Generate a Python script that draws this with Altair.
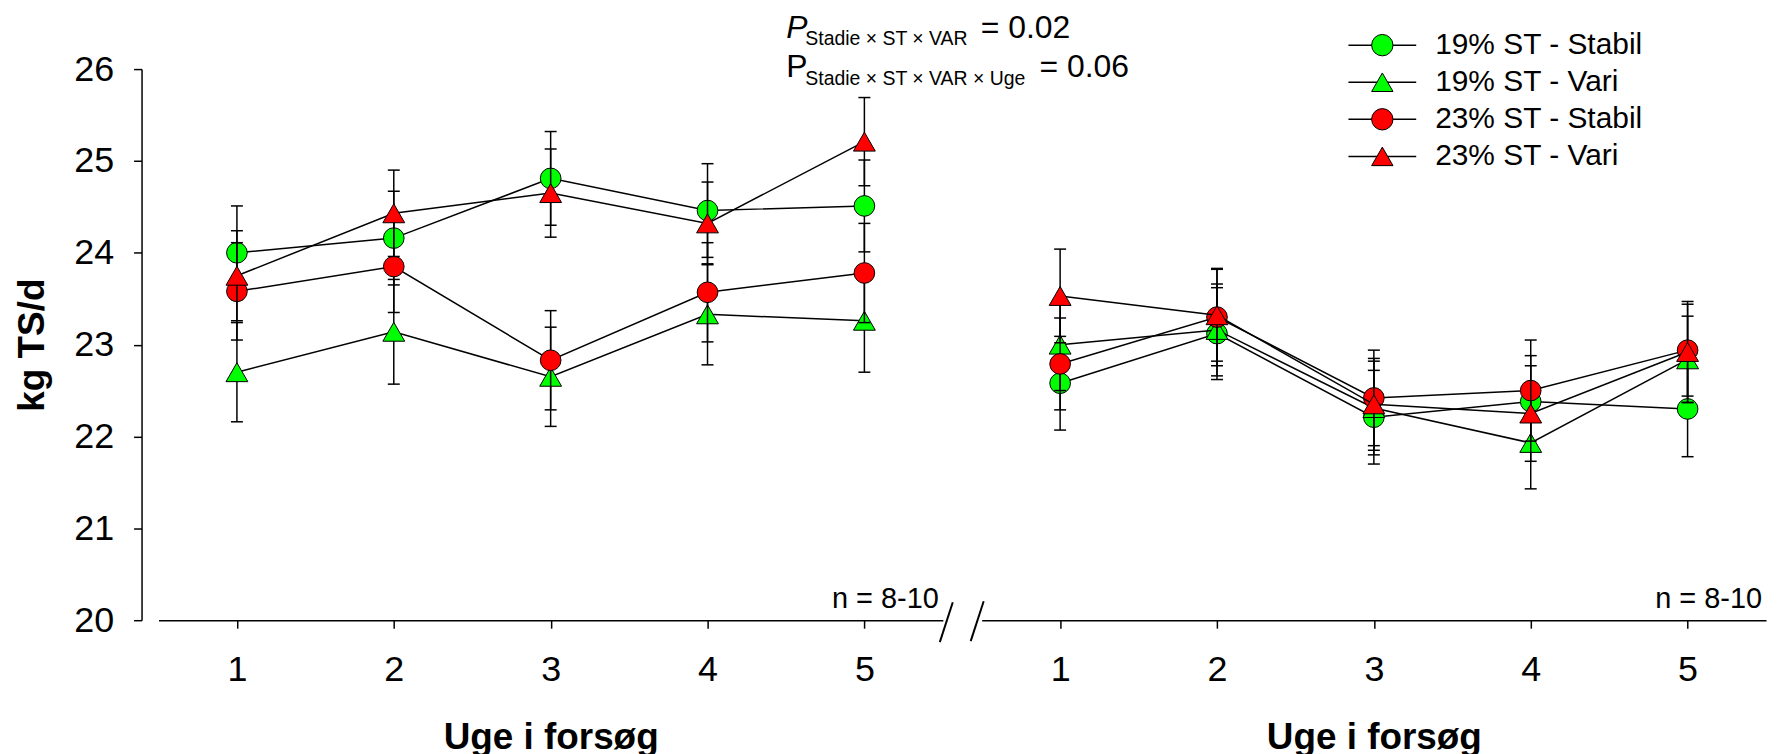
import altair as alt
import pandas as pd

FONT = "Liberation Sans"

# ---------------- data ----------------
weeks = [1, 2, 3, 4, 5]
y_ticks = [20, 21, 22, 23, 24, 25, 26]

series_names = ["19% ST - Stabil", "19% ST - Vari", "23% ST - Stabil", "23% ST - Vari"]
series_fill = ["#00FF00", "#00FF00", "#FF0000", "#FF0000"]
series_shape = ["circle", "triangle-up", "circle", "triangle-up"]

# left panel
left_19_stabil = [24.00, 24.16, 24.81, 24.46, 24.51]
left_19_stabil_se = [0.51, 0.51, 0.51, 0.51, 0.50]
left_19_vari = [22.70, 23.14, 22.65, 23.33, 23.26]
left_19_vari_se = [0.54, 0.57, 0.54, 0.55, 0.56]
left_23_stabil = [23.58, 23.85, 22.83, 23.57, 23.78]
left_23_stabil_se = [0.53, 0.50, 0.54, 0.54, 0.54]
left_23_vari = [23.75, 24.43, 24.65, 24.32, 25.21]
left_23_vari_se = [0.49, 0.47, 0.48, 0.45, 0.48]

# right panel
right_19_stabil = [22.58, 23.12, 22.21, 22.38, 22.30]
right_19_stabil_se = [0.51, 0.50, 0.51, 0.50, 0.52]
right_19_vari = [23.00, 23.16, 22.31, 21.93, 22.84]
right_19_vari_se = [0.50, 0.50, 0.51, 0.50, 0.47]
right_23_stabil = [22.79, 23.30, 22.42, 22.50, 22.94]
right_23_stabil_se = [0.50, 0.53, 0.52, 0.55, 0.50]
right_23_vari = [23.53, 23.32, 22.35, 22.25, 22.92]
right_23_vari_se = [0.51, 0.50, 0.50, 0.52, 0.55]

x_title = "Uge i forsøg"
y_title = "kg TS/d"
n_label = "n = 8-10"
ann_p = "P"
ann_sub1 = "Stadie × ST × VAR"
ann_val1 = "= 0.02"
ann_sub2 = "Stadie × ST × VAR × Uge"
ann_val2 = "= 0.06"

# ---------------- layout ----------------
W, H = 787, 553
TICK_FONT = 36
TITLE_FONT = 37


def series_layers(means, ses, show_y):
    xscale = alt.Scale(domain=[0.5, 5.5], nice=False, zero=False)
    yscale = alt.Scale(domain=[20, 26], nice=False, zero=False)
    xaxis = alt.Axis(values=weeks, format="d", grid=False, tickSize=8, tickWidth=1.5,
                     tickColor="black", domainColor="black", domainWidth=1.5,
                     labelFontSize=TICK_FONT, labelFont=FONT, labelColor="black",
                     labelPadding=25, labelFlush=False,
                     titleFontSize=TITLE_FONT, titleFont=FONT, titleFontWeight="bold",
                     titleColor="black", titlePadding=32)
    if show_y:
        yaxis = alt.Axis(values=y_ticks, format="d", grid=False, tickSize=8, tickWidth=1.5,
                         tickColor="black", domainColor="black", domainWidth=1.5,
                         offset=17, labelFontSize=TICK_FONT, labelFont=FONT,
                         labelColor="black", labelPadding=20, labelFlush=False,
                         titleFontSize=TITLE_FONT, titleFont=FONT, titleFontWeight="bold",
                         titleColor="black", titlePadding=22)
    else:
        yaxis = None
    X = alt.X("week:Q", scale=xscale, axis=xaxis, title=x_title)

    def Y(field):
        return alt.Y(field, scale=yscale, axis=yaxis, title=y_title)

    layers = []
    for i in range(4):
        df = pd.DataFrame({"week": weeks, "mean": means[i], "se": ses[i]})
        base = alt.Chart(df).transform_calculate(
            lo="datum.mean - datum.se", hi="datum.mean + datum.se")
        layers.append(base.mark_rule(color="black", strokeWidth=1.5).encode(
            x=X, y=Y("lo:Q"), y2="hi:Q"))
        layers.append(base.mark_tick(orient="horizontal", size=12, thickness=1.5,
                                     color="black", opacity=1).encode(x=X, y=Y("lo:Q")))
        layers.append(base.mark_tick(orient="horizontal", size=12, thickness=1.5,
                                     color="black", opacity=1).encode(x=X, y=Y("hi:Q")))
        layers.append(base.mark_line(color="black", strokeWidth=1.5).encode(
            x=X, y=Y("mean:Q")))
        sz = 430 if series_shape[i] == "circle" else 480
        layers.append(base.mark_point(shape=series_shape[i], filled=True,
                                      fill=series_fill[i], stroke="black", strokeWidth=1,
                                      size=sz, opacity=1).encode(x=X, y=Y("mean:Q")))
    return layers


def text_layer(txt, x, y, size, align="left", baseline="alphabetic", style="normal"):
    return alt.Chart(pd.DataFrame({"t": [txt]})).mark_text(
        align=align, baseline=baseline, fontSize=size, font=FONT, color="black",
        fontStyle=style).encode(x=alt.value(x), y=alt.value(y), text="t:N")


def slash(x1, y1, x2, y2):
    return alt.Chart(pd.DataFrame({"k": [0]})).mark_rule(
        color="black", strokeWidth=2).encode(
        x=alt.value(x1), x2=alt.value(x2), y=alt.value(y1), y2=alt.value(y2))


# left panel
left_layers = series_layers(
    [left_19_stabil, left_19_vari, left_23_stabil, left_23_vari],
    [left_19_stabil_se, left_19_vari_se, left_23_stabil_se, left_23_vari_se], True)
left_layers += [
    text_layer(n_label, W - 4, H - 12, 29, align="right"),
    slash(W - 3, H + 22, W + 10, H - 18),
    text_layer(ann_p, 630, -31, 32, style="italic"),
    text_layer(ann_sub1, 649, -24, 19.5),
    text_layer(ann_val1, 825, -31, 32),
    text_layer(ann_p, 630, 8, 32),
    text_layer(ann_sub2, 649, 16, 19.5),
    text_layer(ann_val2, 884, 8, 32),
]
left = alt.layer(*left_layers).properties(width=W, height=H)

# right panel
right_layers = series_layers(
    [right_19_stabil, right_19_vari, right_23_stabil, right_23_vari],
    [right_19_stabil_se, right_19_vari_se, right_23_stabil_se, right_23_vari_se], False)
right_layers += [
    text_layer(n_label, W - 4, H - 12, 29, align="right"),
    slash(-11, H + 21, 2, H - 19),
]
for i in range(4):
    yy = -24 + 37.2 * i
    ldf = pd.DataFrame({"label": [series_names[i]]})
    right_layers.append(alt.Chart(ldf).mark_rule(color="black", strokeWidth=1.5).encode(
        x=alt.value(368), x2=alt.value(436), y=alt.value(yy)))
    right_layers.append(alt.Chart(ldf).mark_point(
        shape=series_shape[i], filled=True, fill=series_fill[i], stroke="black",
        strokeWidth=1, size=460, opacity=1).encode(x=alt.value(402), y=alt.value(yy)))
    right_layers.append(alt.Chart(ldf).mark_text(
        align="left", baseline="middle", fontSize=30, font=FONT, color="black").encode(
        x=alt.value(455), y=alt.value(yy), text="label:N"))
right = alt.layer(*right_layers).properties(width=W, height=H)

chart = alt.hconcat(left, right, spacing=39, bounds="flush").properties(
    padding={"left": 5, "top": 3, "right": 5, "bottom": 5}
).configure(font=FONT).configure_view(stroke="transparent", strokeWidth=0)

chart.save("out.html", embed_options={"renderer": "svg", "actions": False})
